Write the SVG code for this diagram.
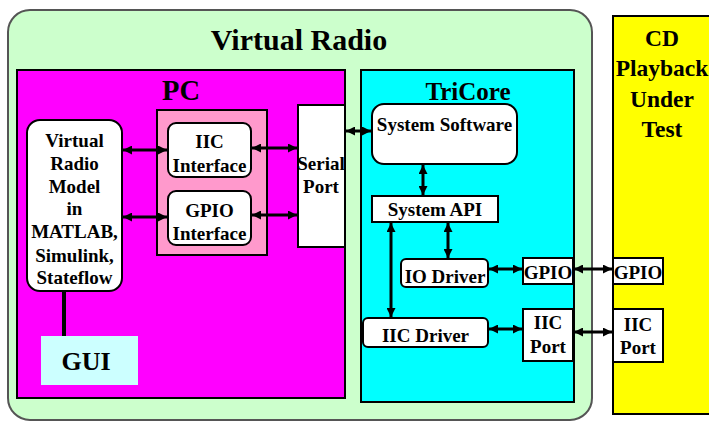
<svg xmlns="http://www.w3.org/2000/svg" width="709" height="421" viewBox="0 0 709 421">
<style>
text{font-family:"Liberation Serif","Times New Roman",serif;font-weight:bold;fill:#000;text-anchor:middle}
.t19{font-size:19px}
.bx{stroke:#000;stroke-width:2}
.w{fill:#fff}
.c{stroke:#000;stroke-width:3;fill:none;marker-start:url(#ah);marker-end:url(#ah)}
</style>
<defs>
<marker id="ah" viewBox="0 0 10 10" refX="10" refY="5" markerWidth="9" markerHeight="9" markerUnits="userSpaceOnUse" orient="auto-start-reverse">
<path d="M0,0 L10,5 L0,10 z" fill="#000"/>
</marker>
</defs>
<rect width="709" height="421" fill="#fff"/>
<g id="virtual-radio">
<rect x="8" y="10" width="584" height="410" rx="22" fill="#ccffcc" stroke="#555" stroke-width="2"/>
<text x="299" y="50" style="font-size:30px">Virtual Radio</text>
</g>
<g id="pc">
<rect class="bx" x="17" y="70" width="328" height="328" fill="#ff00ff"/>
<text x="181" y="100" style="font-size:28.5px">PC</text>
</g>
<g id="interfaces">
<rect class="bx" x="157" y="110" width="110" height="145" fill="#ff99cc"/>
</g>
<g id="iic-interface">
<rect class="bx w" x="168" y="123" width="83" height="54" rx="8"/>
<text class="t19" x="209.5" y="148">IIC</text>
<text class="t19" x="209.5" y="172">Interface</text>
</g>
<g id="gpio-interface">
<rect class="bx w" x="168" y="191" width="83" height="54" rx="8"/>
<text class="t19" x="209.5" y="217">GPIO</text>
<text class="t19" x="209.5" y="240">Interface</text>
</g>
<g id="model">
<rect class="bx w" x="27" y="120" width="95" height="171" rx="13"/>
<text class="t19" x="74.5" y="147">Virtual</text>
<text class="t19" x="74.5" y="170">Radio</text>
<text class="t19" x="74.5" y="193">Model</text>
<text class="t19" x="74.5" y="215">in</text>
<text class="t19" x="74.5" y="238">MATLAB,</text>
<text class="t19" x="74.5" y="262">Simulink,</text>
<text class="t19" x="74.5" y="284">Stateflow</text>
</g>
<g id="serial-port">
<rect class="bx w" x="298" y="105" width="47" height="142"/>
<text class="t19" x="321" y="170">Serial</text>
<text class="t19" x="321" y="193">Port</text>
</g>
<g id="gui">
<rect x="41" y="336" width="97" height="49" fill="#ccffff"/>
<text x="86" y="370" style="font-size:26px">GUI</text>
</g>
<g id="tricore">
<rect class="bx" x="361" y="70" width="213" height="332" fill="#00ffff"/>
<text x="468" y="100" style="font-size:25px">TriCore</text>
</g>
<g id="system-software">
<rect class="bx w" x="372" y="104" width="145" height="60" rx="12"/>
<text class="t19" x="444.5" y="131">System Software</text>
</g>
<g id="system-api">
<rect class="bx w" x="372" y="196" width="126" height="26"/>
<text class="t19" x="435" y="216">System API</text>
</g>
<g id="io-driver">
<rect class="bx w" x="401" y="259" width="87" height="28" rx="5"/>
<text class="t19" x="445" y="283">IO Driver</text>
</g>
<g id="iic-driver">
<rect class="bx w" x="363" y="318" width="125" height="29" rx="5"/>
<text class="t19" x="425.5" y="342">IIC Driver</text>
</g>
<g id="tc-gpio">
<rect class="bx w" x="523" y="258" width="50" height="26"/>
<text class="t19" x="548" y="279">GPIO</text>
</g>
<g id="tc-iic-port">
<rect class="bx w" x="523" y="309" width="50" height="52"/>
<text class="t19" x="548" y="329">IIC</text>
<text class="t19" x="548" y="353">Port</text>
</g>
<g id="cd">
<rect class="bx" x="613" y="16" width="110" height="398" fill="#ffff00"/>
<text x="662" y="46" style="font-size:23.5px">CD</text>
<text x="662" y="76" style="font-size:23.5px">Playback</text>
<text x="662" y="107" style="font-size:23.5px">Under</text>
<text x="662" y="137" style="font-size:23.5px">Test</text>
</g>
<g id="cd-gpio">
<rect class="bx w" x="613" y="258" width="50" height="26"/>
<text class="t19" x="638" y="279">GPIO</text>
</g>
<g id="cd-iic-port">
<rect class="bx w" x="613" y="309" width="50" height="53"/>
<text class="t19" x="638" y="331">IIC</text>
<text class="t19" x="638" y="354">Port</text>
</g>
<g id="connectors">
<line class="c" x1="123" y1="150" x2="167" y2="150"/>
<line class="c" x1="252" y1="148" x2="297" y2="148"/>
<line class="c" x1="123" y1="217" x2="167" y2="217"/>
<line class="c" x1="252" y1="215" x2="297" y2="215"/>
<line class="c" x1="346" y1="131" x2="371" y2="131"/>
<line class="c" x1="423" y1="165" x2="423" y2="195"/>
<line class="c" x1="448" y1="223" x2="448" y2="258"/>
<line class="c" x1="391" y1="223" x2="391" y2="317"/>
<line class="c" x1="489" y1="269" x2="522" y2="269"/>
<line class="c" x1="489" y1="329" x2="522" y2="329"/>
<line class="c" x1="574" y1="269" x2="612" y2="269"/>
<line class="c" x1="574" y1="332" x2="612" y2="332"/>
<line x1="64" y1="291" x2="64" y2="336" stroke="#000" stroke-width="4"/>
</g>
</svg>
